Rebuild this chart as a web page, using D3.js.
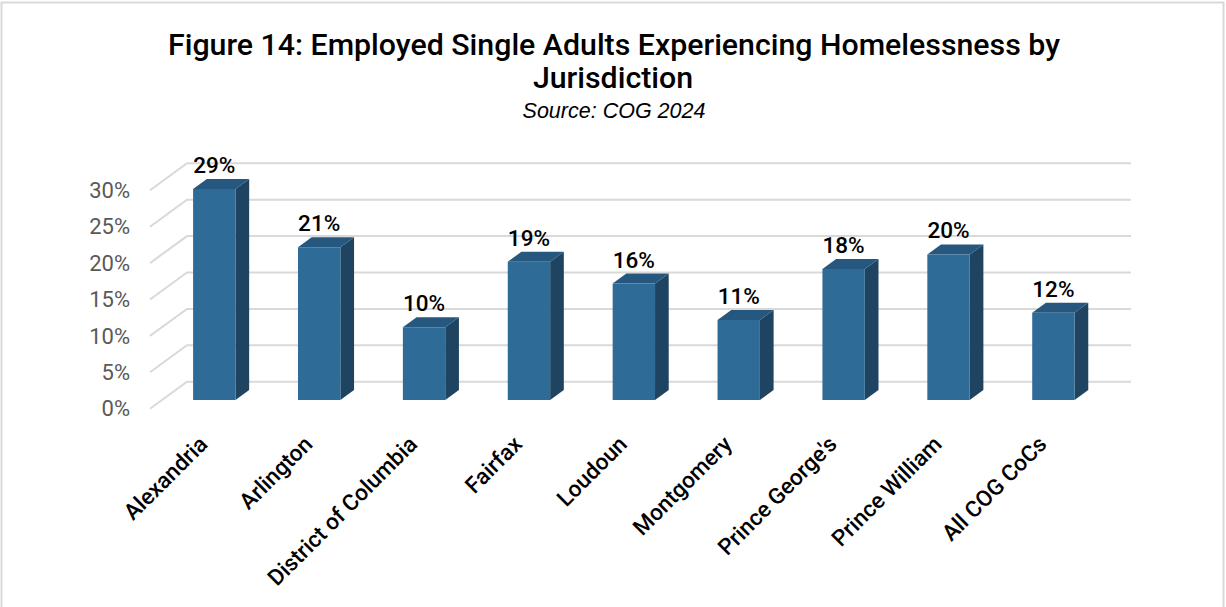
<!DOCTYPE html>
<html>
<head>
<meta charset="utf-8">
<script src="https://cdn.jsdelivr.net/npm/d3@7/dist/d3.min.js"></script>
<style>
  html, body { margin: 0; padding: 0; background: #fff; }
  svg { display: block; }
</style>
</head>
<body>
<svg id="chart" width="1226" height="607"></svg>
<script>
// Employed single adults experiencing homelessness, share by jurisdiction
const categories = ["Alexandria", "Arlington", "District of Columbia", "Fairfax", "Loudoun",
                    "Montgomery", "Prince George's", "Prince William", "All COG CoCs"];
const shares = [29, 21, 10, 19, 16, 11, 18, 20, 12];
const tickValues = [0, 5, 10, 15, 20, 25, 30];
const titleLines = ["Figure 14: Employed Single Adults Experiencing Homelessness by", "Jurisdiction"];
const subtitle = "Source: COG 2024";

const W = 1226, H = 607;
const svg = d3.select("#chart");

// back wall of the 3D plot area
const wallLeft = 187, wallRight = 1131;
const wallBottom = 381.7, wallTop = 163.3;
// depth vector from back wall to front edge of floor
const depthDX = -37, depthDY = 27;

const x = d3.scaleBand().domain(categories).range([wallLeft, wallRight]).padding(0);
const y = d3.scaleLinear().domain([0, 30]).range([wallBottom, wallTop]);

// project (xWall, value, t) where t = 0 front, 1 back
function proj(px, v, t) {
  return [px + (1 - t) * depthDX, y(v) + (1 - t) * depthDY];
}

const sans = "Roboto, 'Noto Sans', sans-serif";

// frame
svg.append("rect")
  .attr("x", 1.5).attr("y", 2.5).attr("width", W - 4).attr("height", H + 10)
  .attr("fill", "none").attr("stroke", "#d9d9d9").attr("stroke-width", 2);

// gridlines: back wall and left wall
const grid = svg.append("g");
tickValues.forEach(v => {
  const [fx, fy] = proj(wallLeft, v, 0);
  const [bx, by] = proj(wallLeft, v, 1);
  const [ex, ey] = proj(wallRight, v, 1);
  grid.append("path")
    .attr("d", `M${fx},${fy}L${bx},${by}L${ex},${ey}`)
    .attr("fill", "none").attr("stroke", "#d9d9d9").attr("stroke-width", 2);
});

// y axis labels on the front plane
svg.append("g").selectAll("text").data(tickValues).join("text")
  .attr("x", 130)
  .attr("y", d => proj(wallLeft, d, 0)[1])
  .attr("dy", "0.35em")
  .attr("text-anchor", "end")
  .attr("font-family", sans)
  .attr("font-size", 22)
  .attr("fill", "#595959")
  .text(d => d + "%");

// 3D bars
const barFrac = 0.404, tFront = 0.32, tBack = 0.69;
const frontColor = "#2e6b97", sideColor = "#1f4461", topColor = "#26577e";
const bars = svg.append("g");
categories.forEach((c, i) => {
  const v = shares[i];
  const cx = x(c) + x.bandwidth() / 2;
  const x0 = cx - x.bandwidth() * barFrac / 2;
  const x1 = cx + x.bandwidth() * barFrac / 2;
  const fbl = proj(x0, 0, tFront), fbr = proj(x1, 0, tFront);
  const ftl = proj(x0, v, tFront), ftr = proj(x1, v, tFront);
  const btl = proj(x0, v, tBack), btr = proj(x1, v, tBack);
  const bbr = proj(x1, 0, tBack);
  const g = bars.append("g");
  g.append("path")
    .attr("d", `M${ftr}L${btr}L${bbr}L${fbr}Z`)
    .attr("fill", sideColor);
  g.append("path")
    .attr("d", `M${ftl}L${ftr}L${btr}L${btl}Z`)
    .attr("fill", topColor);
  g.append("path")
    .attr("d", `M${ftl}L${ftr}L${fbr}L${fbl}Z`)
    .attr("fill", frontColor);

  // value label
  const lx = (ftl[0] + ftr[0]) / 2;
  g.append("text")
    .attr("x", lx).attr("y", btl[1] - 6)
    .attr("text-anchor", "middle")
    .attr("font-family", sans)
    .attr("font-weight", 500)
    .attr("font-size", 22.5)
    .attr("fill", "#000")
    .text(v + "%");

  // category label
  const ax = lx - 11, ay = 440;
  g.append("text")
    .attr("transform", `translate(${ax},${ay}) rotate(-45)`)
    .attr("text-anchor", "end")
    .attr("dy", "0.35em")
    .attr("font-family", sans)
    .attr("font-weight", 500)
    .attr("font-size", 22.5)
    .attr("fill", "#000")
    .text(c);
});

// title
const title = svg.append("g")
  .attr("font-family", sans)
  .attr("font-weight", 500)
  .attr("font-size", 30.3)
  .attr("fill", "#000")
  .attr("text-anchor", "middle");
title.append("text").attr("x", 614).attr("y", 55).text(titleLines[0]);
title.append("text").attr("x", 613).attr("y", 88).text(titleLines[1]);

svg.append("text")
  .attr("x", 614).attr("y", 117.5)
  .attr("text-anchor", "middle")
  .attr("font-family", "'Liberation Sans', Arial, sans-serif")
  .attr("font-style", "italic")
  .attr("font-size", 21.5)
  .attr("fill", "#000")
  .text(subtitle);
</script>
</body>
</html>
